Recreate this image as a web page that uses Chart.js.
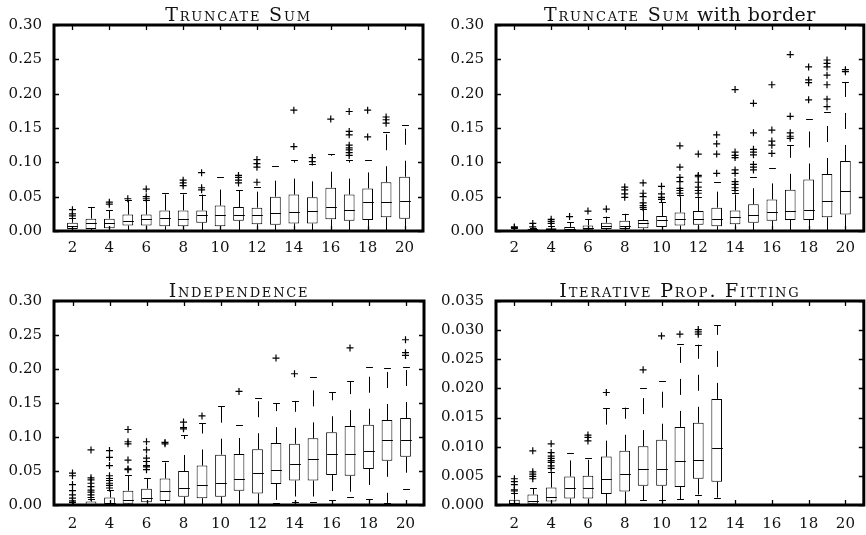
<!DOCTYPE html>
<html lang="en">
<head>
<meta charset="UTF-8">
<title>Box plots</title>
<script src="https://cdn.jsdelivr.net/npm/chart.js@4"></script>
<style>
  html, body { margin: 0; padding: 0; background: #fff; overflow: hidden; }
  body { width: 866px; height: 535px; position: relative; }
  .panel { position: absolute; }
</style>
</head>
<body>
<div class="panel" style="left:0;top:0;width:433px;height:268px"><canvas id="c1"></canvas></div>
<div class="panel" style="left:433px;top:0;width:436px;height:268px"><canvas id="c2"></canvas></div>
<div class="panel" style="left:0;top:268px;width:433px;height:267px"><canvas id="c3"></canvas></div>
<div class="panel" style="left:433px;top:268px;width:436px;height:267px"><canvas id="c4"></canvas></div>

<script>
// problem sizes on the x axis
const sizes = [2, 3, 4, 5, 6, 7, 8, 9, 10, 11, 12, 13, 14, 15, 16, 17, 18, 19, 20];
const ipfSizes = [2, 3, 4, 5, 6, 7, 8, 9, 10, 11, 12, 13];
const xTickValues = [2, 4, 6, 8, 10, 12, 14, 16, 18, 20];
const yTicksWide = [0, 0.05, 0.10, 0.15, 0.20, 0.25, 0.30];
const yTicksFine = [0, 0.005, 0.010, 0.015, 0.020, 0.025, 0.030, 0.035];

// Truncate Sum
const truncLo  = [0, 0, 0, 0, 0, 0, 0, 0, 0, 0, 0, 0, 0, 0, 0, 0, 0, 0.001, 0.001];
const truncQ1  = [0.003, 0.003, 0.004, 0.008, 0.008, 0.007, 0.007, 0.012, 0.007, 0.015, 0.010, 0.009, 0.011, 0.011, 0.017, 0.015, 0.016, 0.020, 0.018];
const truncMed = [0.007, 0.012, 0.012, 0.014, 0.017, 0.019, 0.017, 0.023, 0.023, 0.023, 0.023, 0.026, 0.027, 0.029, 0.035, 0.030, 0.042, 0.042, 0.043];
const truncQ3  = [0.012, 0.018, 0.018, 0.024, 0.024, 0.030, 0.030, 0.030, 0.037, 0.035, 0.034, 0.050, 0.053, 0.049, 0.063, 0.053, 0.062, 0.071, 0.079];
const truncHi  = [0.019, 0.035, 0.030, 0.045, 0.045, 0.055, 0.056, 0.053, 0.078, 0.059, 0.064, 0.095, 0.103, 0.098, 0.112, 0.103, 0.103, 0.144, 0.155];
const truncOut = [
  [0.022, 0.025, 0.031], [], [0.039, 0.042], [0.047], [0.047, 0.050, 0.061], [],
  [0.066, 0.070, 0.074], [0.060, 0.063, 0.085], [], [0.070, 0.074, 0.078, 0.081],
  [0.071, 0.093, 0.098, 0.104], [], [0.123, 0.176], [0.101, 0.107], [0.163],
  [0.110, 0.114, 0.118, 0.121, 0.125, 0.140, 0.145, 0.174], [0.137, 0.176],
  [0.157, 0.162, 0.166], []
];

// Truncate Sum with border
const borderLo  = [0, 0, 0, 0, 0, 0, 0, 0, 0, 0, 0, 0, 0, 0, 0, 0, 0, 0, 0];
const borderQ1  = [0.0005, 0.0005, 0.001, 0.001, 0.002, 0.003, 0.003, 0.004, 0.006, 0.008, 0.009, 0.007, 0.010, 0.012, 0.015, 0.016, 0.016, 0.020, 0.024];
const borderMed = [0.001, 0.001, 0.002, 0.003, 0.005, 0.008, 0.008, 0.011, 0.016, 0.018, 0.018, 0.018, 0.020, 0.024, 0.027, 0.029, 0.030, 0.044, 0.058];
const borderQ3  = [0.002, 0.003, 0.004, 0.006, 0.008, 0.012, 0.015, 0.016, 0.022, 0.027, 0.029, 0.034, 0.030, 0.039, 0.046, 0.060, 0.075, 0.083, 0.102];
const borderHi  = [0.004, 0.005, 0.008, 0.013, 0.017, 0.021, 0.025, 0.032, 0.042, 0.052, 0.050, 0.071, 0.056, 0.078, 0.092, 0.125, 0.163, 0.174, 0.217];
const borderOut = [
  [0.005, 0.006], [0.006, 0.011], [0.011, 0.014, 0.017], [0.021], [0.029], [0.032],
  [0.049, 0.054, 0.060, 0.064], [0.034, 0.037, 0.041, 0.050, 0.055, 0.070],
  [0.046, 0.049, 0.054, 0.065], [0.055, 0.059, 0.062, 0.072, 0.078, 0.093, 0.124],
  [0.055, 0.059, 0.064, 0.071, 0.079, 0.081, 0.112], [0.084, 0.112, 0.127, 0.140],
  [0.059, 0.063, 0.068, 0.072, 0.084, 0.089, 0.107, 0.110, 0.115, 0.206],
  [0.089, 0.093, 0.097, 0.111, 0.115, 0.119, 0.143, 0.186],
  [0.113, 0.125, 0.131, 0.147, 0.213], [0.135, 0.138, 0.143, 0.167, 0.257],
  [0.191, 0.216, 0.220, 0.239], [0.181, 0.192, 0.213, 0.227, 0.239, 0.244, 0.249],
  [0.232, 0.235]
];

// Independence
const indepLo  = [0, 0, 0, 0, 0, 0, 0, 0, 0, 0, 0, 0.003, 0.005, 0.005, 0.007, 0.012, 0.009, 0.003, 0.024];
const indepQ1  = [0.000, 0.000, 0.001, 0.002, 0.004, 0.006, 0.012, 0.010, 0.012, 0.021, 0.017, 0.031, 0.036, 0.036, 0.044, 0.043, 0.053, 0.065, 0.071];
const indepMed = [0.001, 0.002, 0.003, 0.007, 0.011, 0.020, 0.025, 0.030, 0.033, 0.038, 0.047, 0.052, 0.060, 0.068, 0.075, 0.075, 0.080, 0.096, 0.096];
const indepQ3  = [0.002, 0.005, 0.011, 0.021, 0.024, 0.039, 0.050, 0.058, 0.074, 0.075, 0.082, 0.091, 0.090, 0.098, 0.107, 0.116, 0.118, 0.125, 0.128];
const indepHi  = [0.002, 0.009, 0.022, 0.044, 0.039, 0.064, 0.103, 0.120, 0.145, 0.118, 0.157, 0.150, 0.153, 0.188, 0.166, 0.182, 0.203, 0.202, 0.203];
const indepOut = [
  [0.004, 0.006, 0.010, 0.015, 0.021, 0.030, 0.043, 0.047],
  [0.011, 0.015, 0.019, 0.022, 0.027, 0.032, 0.037, 0.040, 0.081],
  [0.025, 0.029, 0.032, 0.036, 0.039, 0.043, 0.058, 0.070, 0.080],
  [0.052, 0.053, 0.066, 0.090, 0.093, 0.111],
  [0.052, 0.056, 0.058, 0.064, 0.069, 0.081, 0.093],
  [0.090, 0.092], [0.112, 0.114, 0.122], [0.131], [], [0.167], [], [0.216], [0.193],
  [], [], [0.231], [], [], [0.220, 0.224, 0.243]
];

// Iterative Prop. Fitting
const ipfLo  = [0, 0, 0, 0, 0, 0, 0, 0.0008, 0.0008, 0.0010, 0.0018, 0.0012];
const ipfQ1  = [0.0000, 0.0002, 0.0006, 0.0011, 0.0011, 0.0019, 0.0023, 0.0033, 0.0033, 0.0031, 0.0045, 0.0040];
const ipfMed = [0.0003, 0.0007, 0.0014, 0.0030, 0.0029, 0.0044, 0.0053, 0.0062, 0.0062, 0.0076, 0.0078, 0.0097];
const ipfQ3  = [0.0009, 0.0018, 0.0030, 0.0049, 0.0050, 0.0083, 0.0093, 0.0101, 0.0112, 0.0134, 0.0141, 0.0182];
const ipfHi  = [0.0020, 0.0029, 0.0057, 0.0089, 0.0080, 0.0167, 0.0167, 0.0201, 0.0213, 0.0276, 0.0275, 0.0308];
const ipfOut = [
  [0.0024, 0.0026, 0.0035, 0.0040, 0.0045], [0.0045, 0.0049, 0.0053, 0.0057, 0.0093],
  [0.0063, 0.0067, 0.0073, 0.0076, 0.0080, 0.0084, 0.0090, 0.0105], [],
  [0.0110, 0.0116, 0.0120], [0.0193], [], [0.0232], [0.0290], [0.0293],
  [0.0293, 0.0297, 0.0301], []
];

const FONT = "'DejaVu Serif', serif";

// whiskers, medians, frame, inner ticks and title
const boxExtras = {
  id: 'boxExtras',
  afterDatasetsDraw(chart, args, o) {
    const ctx = chart.ctx;
    const x = chart.scales.x, y = chart.scales.y;
    const bars = chart.getDatasetMeta(0).data;
    ctx.save();
    ctx.strokeStyle = '#000';
    ctx.lineWidth = 1;
    o.n.forEach(function (n, i) {
      const px = Math.round(x.getPixelForValue(n)) + 0.5;
      const w = bars[i].width;
      const cap = w * 0.32;
      const yq1 = y.getPixelForValue(o.q1[i]);
      const yq3 = y.getPixelForValue(o.q3[i]);
      const ym = Math.round(y.getPixelForValue(o.med[i])) + 0.5;
      const yhi = y.getPixelForValue(o.hi[i]);
      const ylo = y.getPixelForValue(o.lo[i]);

      ctx.beginPath();
      ctx.moveTo(px - w / 2, ym);
      ctx.lineTo(px + w / 2, ym);
      ctx.stroke();

      ctx.setLineDash([16, 16]);
      ctx.beginPath();
      ctx.moveTo(px, yq3);
      ctx.lineTo(px, yhi);
      ctx.moveTo(px, yq1);
      ctx.lineTo(px, ylo);
      ctx.stroke();
      ctx.setLineDash([]);

      ctx.beginPath();
      const h = Math.round(yhi) + 0.5, l = Math.round(ylo) + 0.5;
      ctx.moveTo(px - cap, h);
      ctx.lineTo(px + cap, h);
      ctx.moveTo(px - cap, l);
      ctx.lineTo(px + cap, l);
      ctx.stroke();
    });
    ctx.restore();
  },
  afterDraw(chart, args, o) {
    const ctx = chart.ctx;
    const a = chart.chartArea;
    const x = chart.scales.x, y = chart.scales.y;
    ctx.save();
    ctx.strokeStyle = '#000';

    // inner ticks on all four sides
    ctx.lineWidth = 1.3;
    ctx.beginPath();
    x.ticks.forEach(function (t) {
      const px = Math.round(x.getPixelForValue(t.value)) + 0.5;
      ctx.moveTo(px, a.bottom);
      ctx.lineTo(px, a.bottom - 5);
      ctx.moveTo(px, a.top);
      ctx.lineTo(px, a.top + 5);
    });
    y.ticks.forEach(function (t) {
      const py = Math.round(y.getPixelForValue(t.value)) + 0.5;
      ctx.moveTo(a.left, py);
      ctx.lineTo(a.left + 5, py);
      ctx.moveTo(a.right, py);
      ctx.lineTo(a.right - 5, py);
    });
    ctx.stroke();

    ctx.lineWidth = 3;
    ctx.strokeRect(a.left, a.top, a.right - a.left, a.bottom - a.top);

    // title, small caps parts and plain parts
    const parts = o.title.map(function (p) {
      return {
        text: p[0],
        font: (p[1] ? 'small-caps ' : '') + o.titleSize + 'px ' + FONT,
        spacing: p[1] ? '1.8px' : '0.5px'
      };
    });
    let total = 0;
    parts.forEach(function (p) {
      ctx.font = p.font;
      ctx.letterSpacing = p.spacing;
      p.w = ctx.measureText(p.text).width;
      total += p.w;
    });
    let tx = (a.left + a.right) / 2 - total / 2;
    ctx.fillStyle = '#111';
    ctx.textBaseline = 'alphabetic';
    ctx.textAlign = 'left';
    parts.forEach(function (p) {
      ctx.font = p.font;
      ctx.letterSpacing = p.spacing;
      ctx.fillText(p.text, tx, a.top - 4);
      tx += p.w;
    });
    ctx.letterSpacing = '0px';
    ctx.restore();
  }
};

function buildPanel(id, spec) {
  const boxes = spec.n.map(function (n, i) {
    return { x: n, y: [spec.q1[i], spec.q3[i]] };
  });
  const points = [];
  spec.out.forEach(function (list, i) {
    list.forEach(function (v) { points.push({ x: spec.n[i], y: v }); });
  });

  return new Chart(document.getElementById(id), {
    type: 'bar',
    data: {
      datasets: [
        {
          data: boxes,
          backgroundColor: '#fff',
          borderColor: '#000',
          borderWidth: 1,
          borderSkipped: false,
          barPercentage: 0.58,
          categoryPercentage: 1
        },
        {
          type: 'scatter',
          data: points,
          pointStyle: 'cross',
          pointRadius: 3.5,
          borderColor: '#000',
          borderWidth: 1.2
        }
      ]
    },
    plugins: [boxExtras],
    options: {
      responsive: true,
      maintainAspectRatio: false,
      devicePixelRatio: 1,
      animation: false,
      layout: { padding: { left: 0, top: spec.top, right: spec.right, bottom: 0 } },
      scales: {
        x: {
          type: 'linear',
          min: 1,
          max: 21,
          offset: false,
          grid: { display: false, drawTicks: false },
          border: { display: false },
          afterBuildTicks: function (s) { s.ticks = xTickValues.map(function (v) { return { value: v }; }); },
          afterFit: function (s) { s.height = spec.xHeight; },
          ticks: {
            autoSkip: false,
            maxRotation: 0,
            padding: spec.xPad,
            color: '#111',
            font: { family: FONT, size: 15 },
            callback: function (v) { return String(v); }
          }
        },
        y: {
          type: 'linear',
          min: 0,
          max: spec.yTicks[spec.yTicks.length - 1],
          grid: { display: false, drawTicks: false },
          border: { display: false },
          afterBuildTicks: function (s) { s.ticks = spec.yTicks.map(function (v) { return { value: v }; }); },
          afterFit: function (s) { s.width = spec.yWidth; },
          ticks: {
            padding: 12,
            color: '#111',
            font: { family: FONT, size: 15 },
            callback: function (v) { return v.toFixed(spec.decimals); }
          }
        }
      },
      plugins: {
        legend: { display: false },
        tooltip: { enabled: false },
        boxExtras: {
          n: spec.n, lo: spec.lo, q1: spec.q1, med: spec.med, q3: spec.q3, hi: spec.hi,
          title: spec.title, titleSize: 19
        }
      }
    }
  });
}

buildPanel('c1', {
  n: sizes, lo: truncLo, q1: truncQ1, med: truncMed, q3: truncQ3, hi: truncHi, out: truncOut,
  title: [['Truncate Sum', true]], yTicks: yTicksWide, decimals: 2,
  top: 25, right: 10, yWidth: 54, xHeight: 37, xPad: 8
});
buildPanel('c2', {
  n: sizes, lo: borderLo, q1: borderQ1, med: borderMed, q3: borderQ3, hi: borderHi, out: borderOut,
  title: [['Truncate Sum', true], [' with border', false]], yTicks: yTicksWide, decimals: 2,
  top: 25, right: 2, yWidth: 63, xHeight: 37, xPad: 8
});
buildPanel('c3', {
  n: sizes, lo: indepLo, q1: indepQ1, med: indepMed, q3: indepQ3, hi: indepHi, out: indepOut,
  title: [['Independence', true]], yTicks: yTicksWide, decimals: 2,
  top: 33, right: 9, yWidth: 54, xHeight: 30, xPad: 10
});
buildPanel('c4', {
  n: ipfSizes, lo: ipfLo, q1: ipfQ1, med: ipfMed, q3: ipfQ3, hi: ipfHi, out: ipfOut,
  title: [['Iterative Prop. Fitting', true]], yTicks: yTicksFine, decimals: 3,
  top: 33, right: 2, yWidth: 63, xHeight: 30, xPad: 10
});
</script>
</body>
</html>
